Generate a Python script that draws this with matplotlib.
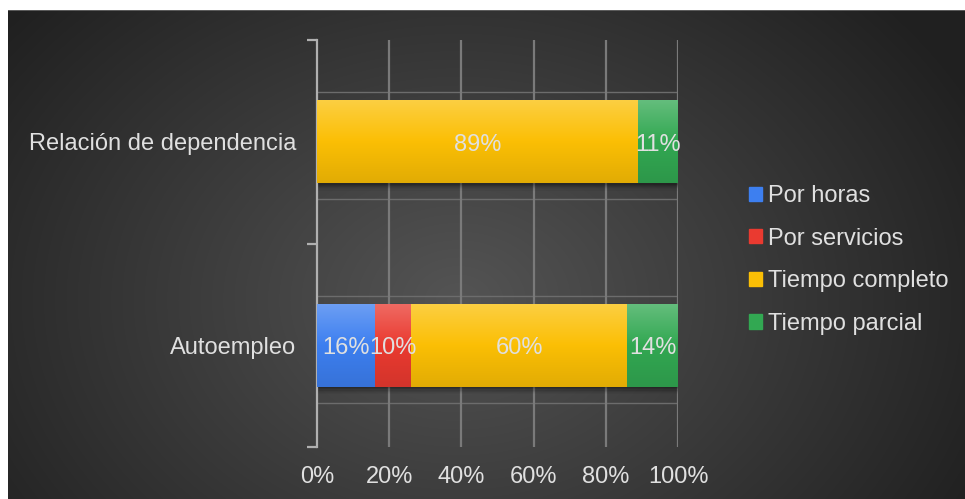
import matplotlib.pyplot as plt
import matplotlib.colors as mcolors
import numpy as np

plt.rcParams['font.family'] = ['Liberation Sans', 'DejaVu Sans']

categories = ['Autoempleo', 'Relación de dependencia']
series = ['Por horas', 'Por servicios', 'Tiempo completo', 'Tiempo parcial']
values = {
    'Por horas':       [16, 0],
    'Por servicios':   [10, 0],
    'Tiempo completo': [60, 89],
    'Tiempo parcial':  [14, 11],
}
colors = {
    'Por horas': '#3d7ff0',
    'Por servicios': '#ea3a30',
    'Tiempo completo': '#fbbf05',
    'Tiempo parcial': '#32a852',
}
xticks = [0, 20, 40, 60, 80, 100]
text_col = '#e0e0e0'
fs = 17

W, H = 965, 499
fig = plt.figure(figsize=(W / 100, H / 100), dpi=100, facecolor='white')

# dark radial backdrop
bg = fig.add_axes([8 / W, 0, 1 - 8 / W, 1 - 10 / H], zorder=-5)
gy, gx = np.mgrid[0:489, 0:957]
d = np.sqrt(((gx - 450) / 560.0) ** 2 + ((gy - 290) / 430.0) ** 2)
shade = np.clip(0x54 - (0x54 - 0x22) * d, 0x20, 0x56) / 255.0
bg.imshow(np.dstack([shade] * 3), aspect='auto', extent=[0, 1, 0, 1], origin='upper')
bg.axhline(1, color='#666666', lw=1.2)
bg.set_axis_off()
bg.set_xlim(0, 1)
bg.set_ylim(0, 1)

ax = fig.add_axes([317 / W, 1 - 447 / H, 361 / W, 407 / H])
ax.patch.set_alpha(0)
ax.set_xlim(0, 100)
ax.set_ylim(-0.5, 1.5)

ypos = np.arange(len(categories))
bh = 0.41
px = 2.0 / 407  # one pixel in y data units

# faint 3d-ish lines hugging each bar
for y in ypos:
    for off in (bh / 2 + 8 * px, -bh / 2 - 16 * px):
        ax.plot([0, 100], [y + off, y + off], color='#6c6c6c', lw=1, zorder=1)

# vertical grid
for t in xticks[1:]:
    ax.plot([t, t], [-0.5, 1.5], color='#7a7a7a', lw=1.6, zorder=1, solid_capstyle='butt')

left = np.zeros(len(categories))
totals = np.sum([values[s] for s in series], axis=0)
# drop shadow
for k, a in zip(range(1, 7), [0.12, 0.1, 0.08, 0.06, 0.04, 0.03]):
    ax.barh(ypos - k * px * 1.2, totals, height=bh, left=0, color='black', alpha=a,
            zorder=2, linewidth=0)

for s in series:
    vals = np.array(values[s], dtype=float)
    base = np.array(mcolors.to_rgb(colors[s]))
    top = base + (1 - base) * 0.25
    bot = base * 0.9
    tt = np.linspace(0, 1, 100)[:, None]
    grad = np.where(tt < 0.5, top + (base - top) * (tt / 0.5), base + (bot - base) * ((tt - 0.5) / 0.5))
    bars = ax.barh(ypos, vals, height=bh, left=left, color=colors[s], zorder=3, linewidth=0,
                   label=s)
    for b, v in zip(bars, vals):
        if v <= 0:
            continue
        x0, y0 = b.get_x(), b.get_y()
        im = ax.imshow(grad[:, None, :], extent=[x0, x0 + b.get_width(), y0, y0 + bh],
                       aspect='auto', origin='upper', zorder=3.5)
        im.set_clip_path(b)
        ax.text(x0 + v / 2, y0 + bh / 2 - 3 * px, f'{int(v)}%', ha='center', va='center',
                color=text_col, fontsize=fs, zorder=5)
    left += vals

ax.set_xlim(0, 100)
ax.set_ylim(-0.5, 1.5)
for sp in ['top', 'right', 'bottom']:
    ax.spines[sp].set_visible(False)
ax.spines['left'].set_color('#b0b0b0')
ax.spines['left'].set_linewidth(1.6)

ax.set_xticks(xticks)
ax.set_xticklabels([f'{t}%' for t in xticks])
ax.tick_params(axis='x', length=0, pad=14, labelsize=fs, labelcolor=text_col)
ax.set_yticks(ypos)
ax.set_yticklabels(categories)
ax.tick_params(axis='y', length=0, pad=15, labelsize=fs, labelcolor=text_col)
ax.set_yticks([-0.5, 0.5, 1.5], minor=True)
ax.tick_params(axis='y', which='minor', length=7, width=1.6, color='#b0b0b0', direction='out')

handles = [plt.Rectangle((0, 0), 1, 1, color=colors[s]) for s in series]
fig.legend(handles, series, loc='center left', bbox_to_anchor=(749 / W, 1 - 260 / H),
           frameon=False, fontsize=fs, labelcolor=text_col, handlelength=0.55,
           handleheight=0.55, handletextpad=0.25, labelspacing=0.87, borderpad=0,
           borderaxespad=0)

fig.savefig('out.png', dpi=100, facecolor='white')
